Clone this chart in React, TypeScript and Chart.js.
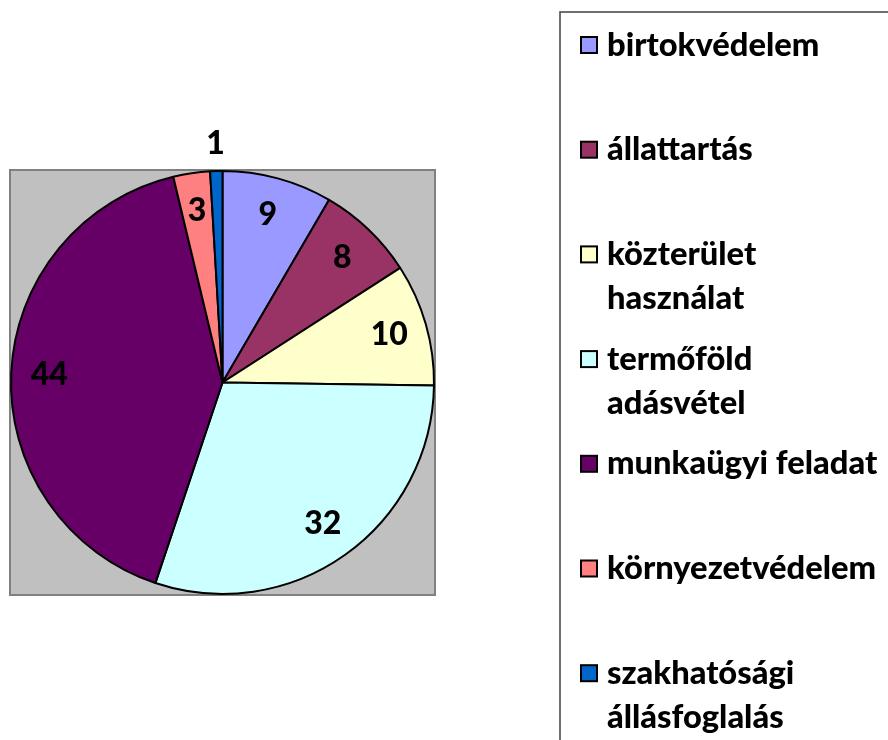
import React, { useEffect, useRef } from "react";
import { Chart, registerables } from "chart.js";

Chart.register(...registerables);

const categories = [
  "birtokvédelem",
  "állattartás",
  "közterület használat",
  "termőföld adásvétel",
  "munkaügyi feladat",
  "környezetvédelem",
  "szakhatósági állásfoglalás",
];
const legendLines = [
  ["birtokvédelem"],
  ["állattartás"],
  ["közterület", "használat"],
  ["termőföld", "adásvétel"],
  ["munkaügyi feladat"],
  ["környezetvédelem"],
  ["szakhatósági", "állásfoglalás"],
];
const values = [9, 8, 10, 32, 44, 3, 1];
const colors = ["#9999FF", "#993366", "#FFFFCC", "#CCFFFF", "#660066", "#FF8080", "#0066CC"];

const FONT = "Lato, 'Open Sans', sans-serif";
const LEGEND_FONT_SIZE = 32.7;
const LABEL_FONT_SIZE = 32;
const FONT_WEIGHT = 900;

const plotBgPlugin = {
  id: "plotBg",
  beforeDraw(chart: any) {
    const { ctx, chartArea } = chart;
    ctx.save();
    ctx.fillStyle = "#C0C0C0";
    ctx.fillRect(chartArea.left, chartArea.top, chartArea.width, chartArea.height);
    ctx.strokeStyle = "#808080";
    ctx.lineWidth = 2;
    ctx.strokeRect(chartArea.left, chartArea.top, chartArea.width, chartArea.height);
    ctx.restore();
  },
};

const sliceLabelPlugin = {
  id: "sliceLabels",
  afterDatasetsDraw(chart: any) {
    const { ctx } = chart;
    const meta = chart.getDatasetMeta(0);
    const data = chart.data.datasets[0].data as number[];
    ctx.save();
    ctx.fillStyle = "#000";
    ctx.font = `${FONT_WEIGHT} ${LABEL_FONT_SIZE}px ${FONT}`;
    ctx.textAlign = "center";
    ctx.textBaseline = "middle";
    meta.data.forEach((arc: any, i: number) => {
      const p = arc.getProps(["x", "y", "startAngle", "endAngle", "outerRadius"], true);
      const mid = (p.startAngle + p.endAngle) / 2;
      const span = p.endAngle - p.startAngle;
      const r = span < 0.1 ? p.outerRadius + 27 : p.outerRadius * 0.82;
      ctx.fillText(String(data[i]), p.x + Math.cos(mid) * r, p.y + Math.sin(mid) * r);
    });
    ctx.restore();
  },
};

const legendPlugin = {
  id: "customLegend",
  afterDraw(chart: any) {
    const { ctx } = chart;
    const boxLeft = 560;
    const boxTop = 12;
    ctx.save();
    ctx.strokeStyle = "#404040";
    ctx.lineWidth = 1.5;
    ctx.strokeRect(boxLeft, boxTop, 600, 900);
    const firstY = 45;
    const step = 104.7;
    const lineH = 44;
    ctx.font = `${FONT_WEIGHT} ${LEGEND_FONT_SIZE}px ${FONT}`;
    ctx.textAlign = "left";
    ctx.textBaseline = "middle";
    legendLines.forEach((lines, i) => {
      const y = firstY + i * step;
      ctx.fillStyle = colors[i];
      ctx.fillRect(581, y - 8, 16, 16);
      ctx.strokeStyle = "#000";
      ctx.lineWidth = 2;
      ctx.strokeRect(581, y - 8, 16, 16);
      ctx.fillStyle = "#000";
      lines.forEach((t, j) => ctx.fillText(t, 607, y + j * lineH));
    });
    ctx.restore();
  },
};

export default function App() {
  const ref = useRef<HTMLCanvasElement | null>(null);
  useEffect(() => {
    if (!ref.current) return;
    const chart = new Chart(ref.current, {
      type: "pie",
      data: {
        labels: categories,
        datasets: [
          {
            data: values,
            backgroundColor: colors,
            borderColor: "#000000",
            borderWidth: 2,
          },
        ],
      },
      options: {
        responsive: false,
        animation: false,
        layout: { padding: { left: 10, top: 170, right: 453, bottom: 145 } },
        plugins: {
          legend: { display: false },
          tooltip: { enabled: false },
        },
      },
      plugins: [plotBgPlugin, sliceLabelPlugin, legendPlugin],
    });
    return () => chart.destroy();
  }, []);
  return (
    <div style={{ position: "absolute", left: 0, top: 0, width: 888, height: 740, background: "#fff" }}>
      <canvas ref={ref} width={888} height={740} />
    </div>
  );
}
